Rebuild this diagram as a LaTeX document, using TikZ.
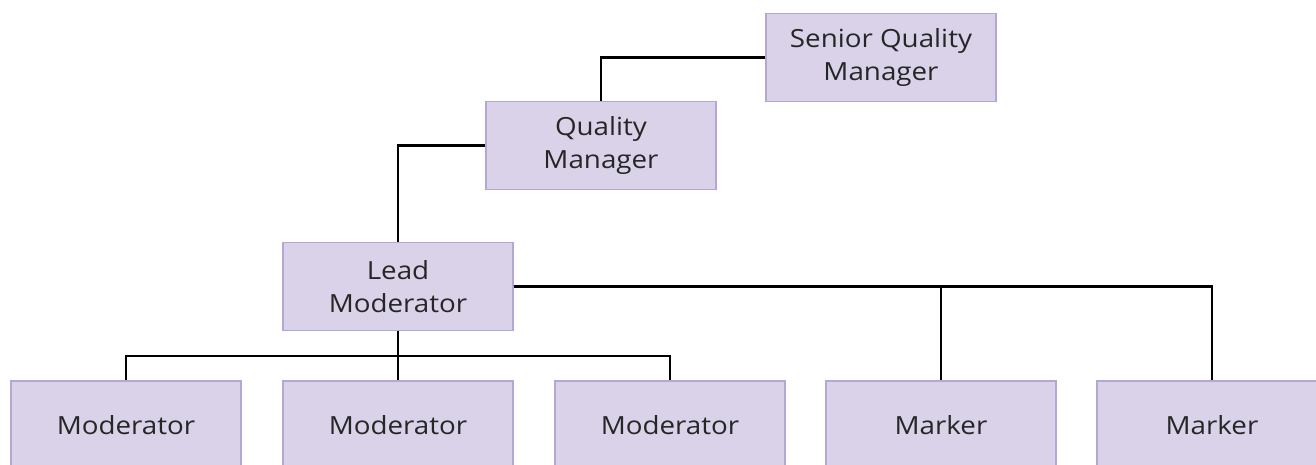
\documentclass[tikz,border=0pt]{standalone}
\usepackage{fontspec}
\setmainfont{Open Sans}[FakeStretch=1.11]
\definecolor{boxfill}{HTML}{D9D2E9}
\definecolor{boxline}{HTML}{B4A7D6}
\definecolor{txt}{HTML}{262626}
\begin{document}
\begin{tikzpicture}[x=1pt,y=-1pt,
  rolebox/.style={draw=boxline,fill=boxfill,line width=1.3pt,minimum width=230pt,minimum height=88pt,
    inner sep=0pt,align=center,text=txt,font=\fontsize{25}{33}\selectfont},
  link/.style={draw=black,line width=2.4pt}]
\useasboundingbox (0,0) rectangle (1316,465);
\clip (0,0) rectangle (1316,465);
\node[rolebox] (sqm) at (881,57.5) {Senior Quality\\Manager};
\node[rolebox] (qm) at (601,145.5) {Quality\\Manager};
\node[rolebox] (lead) at (398,286.5) {Lead\\Moderator};
\node[rolebox] (m1) at (126,425) {Moderator};
\node[rolebox] (m2) at (398,425) {Moderator};
\node[rolebox] (m3) at (670,425) {Moderator};
\node[rolebox] (k1) at (941,425) {Marker};
\node[rolebox] (k2) at (1212,425) {Marker};
\draw[link] (sqm.west) -| (qm.north);
\draw[link] (qm.west) -| (lead.north);
\draw[link] (lead.east) -| (k1.north);
\draw[link] (lead.east) -| (k2.north);
\draw[link] (lead.south) -- ++(0,25) coordinate (j);
\draw[link] (m1.north) |- (j) -| (m3.north);
\draw[link] (j) -- (m2.north);
\end{tikzpicture}
\end{document}
